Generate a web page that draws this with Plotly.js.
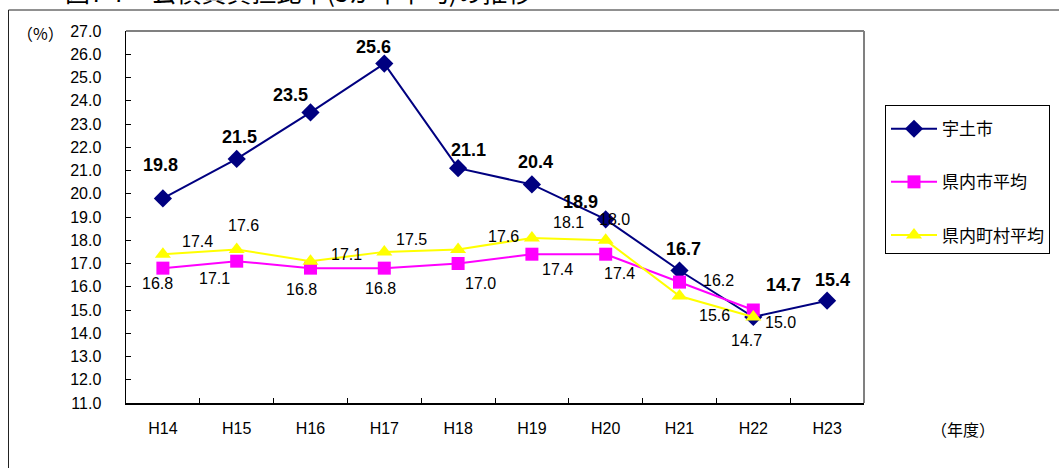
<!DOCTYPE html>
<html>
<head>
<meta charset="utf-8">
<script src="https://cdn.plot.ly/plotly-3.0.1.min.js"></script>
<style>
html,body{margin:0;padding:0;background:#fff;}
#chart{width:1059px;height:468px;}
</style>
</head>
<body>
<div id="chart"></div>
<script>
// ---- data ----
const categories = ['H14','H15','H16','H17','H18','H19','H20','H21','H22','H23'];
const seriesNames = ['宇土市','県内市平均','県内町村平均'];
const utoValues     = [19.8, 21.5, 23.5, 25.6, 21.1, 20.4, 18.9, 16.7, 14.7, 15.4];
const cityAvgValues = [16.8, 17.1, 16.8, 16.8, 17.0, 17.4, 17.4, 16.2, 15.0, null];
const townAvgValues = [17.4, 17.6, 17.1, 17.5, 17.6, 18.1, 18.0, 15.6, 14.7, null];
const yTickVals = [11,12,13,14,15,16,17,18,19,20,21,22,23,24,25,26,27];

// ---- label placement (pixel shifts from each point) ----
const utoShift  = [[-2,33],[3,22],[-20,17],[-11,17],[10,18],[4,22],[-25,17],[4,21],[30,32],[5,21]];
const cityShift = [[-5,-15],[-22,-17],[-9,-21],[-4,-20],[22,-20],[26,-15],[14,-19],[39,2],[27,-12]];
const townShift = [[35,13],[7,24],[36,7],[27,12],[45,13],[37,15],[9,21],[35,-19],[-7,-24]];

const latin = 'Liberation Sans, Arial, Noto Sans CJK JP, sans-serif';
const cjk = 'Noto Sans CJK JP, sans-serif';

const traces = [
  {x: categories, y: utoValues, name: seriesNames[0], type:'scatter', mode:'lines+markers',
   line:{color:'#000080', width:2}, marker:{symbol:'diamond', size:14, color:'#000080'},
   legendgroup:'a', hoverinfo:'skip'},
  {x: categories, y: cityAvgValues, name: seriesNames[1], type:'scatter', mode:'lines+markers',
   line:{color:'#FF00FF', width:2}, marker:{symbol:'square', size:13, color:'#FF00FF'},
   legendgroup:'b', hoverinfo:'skip'},
  {x: categories, y: townAvgValues, name: seriesNames[2], type:'scatter', mode:'lines+markers',
   line:{color:'#FFFF00', width:2}, marker:{symbol:'triangle-up', size:14, color:'#FFFF00'},
   legendgroup:'c', hoverinfo:'skip'}
];

const annotations = [];
function addLabels(vals, shifts, bold){
  vals.forEach((v,i)=>{
    if(v===null || v===undefined) return;
    annotations.push({x: categories[i], y: v, xref:'x', yref:'y', showarrow:false,
      text: v.toFixed(1), xshift: shifts[i][0], yshift: shifts[i][1],
      font:{family: latin, size: bold?18:16, color:'#000', weight: bold?'bold':'normal'}});
  });
}
addLabels(utoValues, utoShift, true);
addLabels(cityAvgValues, cityShift, false);
addLabels(townAvgValues, townShift, false);

// pixel -> paper helpers for decorations
const L=126, T=31, W=738, H=372;
const px = p => (p-L)/W;
const py = p => 1-(p-T)/H;

annotations.push({xref:'paper', yref:'paper', x:px(40), y:py(33), showarrow:false,
  text:'（%）', font:{family:cjk, size:16, color:'#000'}, xanchor:'center', yanchor:'middle'});
annotations.push({xref:'paper', yref:'paper', x:px(963), y:py(429), showarrow:false,
  text:'（年度）', font:{family:cjk, size:16, color:'#000'}, xanchor:'center', yanchor:'middle'});
annotations.push({xref:'paper', yref:'paper', x:px(63), y:py(-9), showarrow:false,
  text:'図7-7　公債費負担比率(3か年平均)の推移', font:{family:cjk, size:25, color:'#000'},
  xanchor:'left', yanchor:'middle'});

const shapes = [
  {type:'line', xref:'paper', yref:'paper', x0:px(8.5), x1:px(1070), y0:py(10), y1:py(10), line:{color:'#222', width:1}},
  {type:'line', xref:'paper', yref:'paper', x0:px(8.5), x1:px(8.5), y0:py(10), y1:py(480), line:{color:'#222', width:1}},
  {type:'line', xref:'paper', yref:'paper', x0:0, x1:1, y0:1, y1:1, line:{color:'#808080', width:2}},
  {type:'line', xref:'paper', yref:'paper', x0:1, x1:1, y0:0, y1:1, line:{color:'#808080', width:2}}
];

const layout = {
  width:1059, height:468,
  margin:{l:L, r:1059-L-W, t:T, b:468-T-H, autoexpand:false},
  paper_bgcolor:'#fff', plot_bgcolor:'#fff',
  showlegend:true,
  legend:{x:px(885), y:py(105), xanchor:'left', yanchor:'top',
    bordercolor:'#000', borderwidth:1, bgcolor:'#fff',
    title:{text:' ', font:{size:4}},
    font:{family:cjk, size:17, color:'#000'},
    traceorder:'grouped', tracegroupgap:28, itemwidth:46},
  xaxis:{type:'category', range:[-0.5, 9.5], showgrid:false, zeroline:false,
    showline:true, linecolor:'#000', linewidth:1.5,
    ticks:'inside', tickson:'boundaries', ticklen:5, tickcolor:'#000', tickwidth:1,
    tickfont:{family:latin, size:16, color:'#000'}, ticklabelstandoff:10, fixedrange:true},
  yaxis:{range:[11,27], tickvals:yTickVals, ticktext:yTickVals.map(v=>v.toFixed(1)),
    showgrid:false, zeroline:false, showline:true, linecolor:'#000', linewidth:1.5,
    ticks:'inside', ticklen:5, tickcolor:'#000', tickwidth:1,
    tickfont:{family:latin, size:16, color:'#000'}, ticklabelstandoff:20, fixedrange:true},
  annotations: annotations,
  shapes: shapes
};

Plotly.newPlot('chart', traces, layout, {displayModeBar:false, staticPlot:true});
</script>
</body>
</html>
